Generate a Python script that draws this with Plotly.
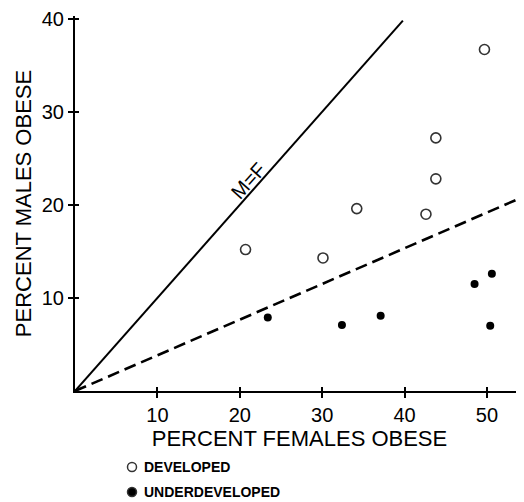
import plotly.graph_objects as go

# Data
dev_f = [20.7, 30.1, 34.2, 42.6, 43.8, 43.8, 49.7]
dev_m = [15.2, 14.3, 19.6, 19.0, 22.8, 27.2, 36.7]
und_f = [23.4, 32.4, 37.1, 48.5, 50.6, 50.4]
und_m = [7.9, 7.1, 8.1, 11.5, 12.6, 7.0]

eq_x = [0, 39.8]
eq_y = [0, 39.8]
fit_x = [0, 54.5]
fit_y = [0, 20.9]

x_ticks = [10, 20, 30, 40, 50]
y_ticks = [10, 20, 30, 40]
legend_labels = ["DEVELOPED", "UNDERDEVELOPED"]

FONT = "Liberation Sans, Arial, Helvetica, sans-serif"
XR = [0, 54.5]
YR = [0, 40.3]
# the page body has an 8px margin, so the figure is 8px smaller and shifted
OFF = 8
W, H = 524 - OFF, 502 - OFF
ML, MR, MT, MB = 75 - OFF, 0, 16 - OFF, 502 - 391
PW, PH = W - ML - MR, H - MT - MB

fig = go.Figure()
fig.add_trace(go.Scatter(x=eq_x, y=eq_y, mode="lines", line=dict(color="black", width=2),
                         showlegend=False, hoverinfo="skip"))
fig.add_trace(go.Scatter(x=fit_x, y=fit_y, mode="lines",
                         line=dict(color="black", width=2.6, dash="12px,6px"),
                         showlegend=False, hoverinfo="skip"))
fig.add_trace(go.Scatter(x=dev_f, y=dev_m, mode="markers", name=legend_labels[0],
                         showlegend=False,
                         marker=dict(symbol="circle-open", size=10, color="#333",
                                     line=dict(width=1.6, color="#333"))))
fig.add_trace(go.Scatter(x=und_f, y=und_m, mode="markers", name=legend_labels[1],
                         showlegend=False,
                         marker=dict(symbol="circle", size=8, color="black")))
# invisible trace for the overlay axes (inner half of crossing ticks)
fig.add_trace(go.Scatter(x=[None], y=[None], xaxis="x2", yaxis="y2", showlegend=False,
                         hoverinfo="skip"))

fig.add_annotation(x=21.0, y=22.6, text="M=F", showarrow=False, textangle=-48,
                   font=dict(family=FONT, size=20, color="black"))

# legend drawn below the axis title (page pixel positions)
def px_to_paper(px, py):
    return (px - OFF - ML) / PW, (H - MB - (py - OFF)) / PH

leg_rows = [467, 492]
for i, (lab, py) in enumerate(zip(legend_labels, leg_rows)):
    cx, cy = px_to_paper(132, py)
    r = 4.5 / PW
    ry = 4.5 / PH
    fig.add_shape(type="circle", xref="paper", yref="paper",
                  x0=cx - r, x1=cx + r, y0=cy - ry, y1=cy + ry,
                  line=dict(color="#333", width=1.5),
                  fillcolor="white" if i == 0 else "black")
    tx, ty = px_to_paper(142, py)
    fig.add_annotation(x=tx, y=ty, xref="paper", yref="paper", xanchor="left",
                       yanchor="middle", text=lab, showarrow=False,
                       font=dict(family=FONT, size=14, color="black", weight="bold"))

axis_common = dict(showgrid=False, zeroline=False, tickcolor="black", tickwidth=2)
fig.update_layout(
    width=W, height=H,
    margin=dict(l=ML, r=MR, t=MT, b=MB, autoexpand=False),
    paper_bgcolor="white", plot_bgcolor="white",
    font=dict(family=FONT, color="black"),
    showlegend=False,
    xaxis=dict(range=XR, tickvals=x_ticks, showline=True, linecolor="black", linewidth=2,
               ticks="outside", ticklen=5, automargin=False, ticklabeloverflow="allow",
               tickfont=dict(size=20, family=FONT),
               title=dict(text="PERCENT FEMALES OBESE", font=dict(size=22, family=FONT), standoff=2),
               **axis_common),
    yaxis=dict(range=YR, tickvals=y_ticks, showline=True, linecolor="black", linewidth=2,
               ticks="outside", ticklen=5, automargin=False, ticklabeloverflow="allow",
               tickfont=dict(size=20, family=FONT),
               title=dict(text="PERCENT MALES OBESE", font=dict(size=22, family=FONT), standoff=4),
               **axis_common),
    xaxis2=dict(range=XR, tickvals=x_ticks, overlaying="x", anchor="y", side="bottom",
                ticks="inside", ticklen=4, showticklabels=False, showline=False,
                automargin=False, **axis_common),
    yaxis2=dict(range=YR, tickvals=y_ticks, overlaying="y", anchor="x", side="left",
                ticks="inside", ticklen=4, showticklabels=False, showline=False,
                automargin=False, **axis_common),
)

fig.write_html("out.html")
